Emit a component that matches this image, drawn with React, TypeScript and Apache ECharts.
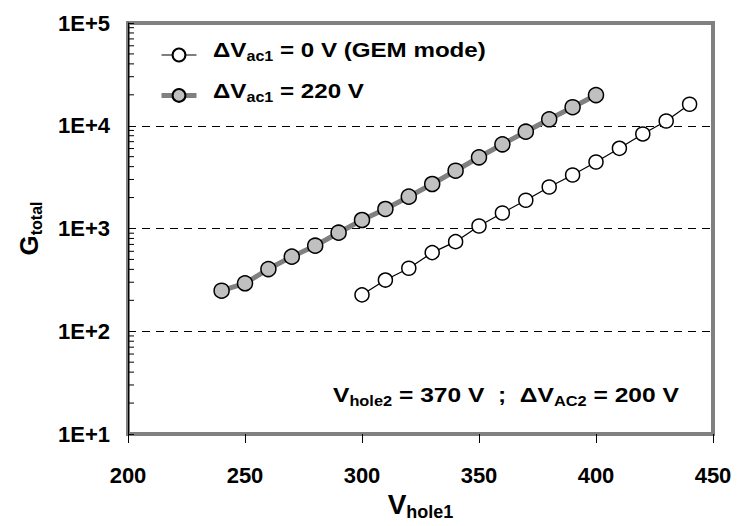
import React, { useEffect, useRef } from "react";
import * as echarts from "echarts";

const vhole1Gem = [300, 310, 320, 330, 340, 350, 360, 370, 380, 390, 400, 410, 420, 430, 440];
const gainGem = [226, 315, 410, 582, 745, 1057, 1416, 1882, 2536, 3317, 4436, 6030, 8320, 11120, 16200];
const vhole1Ac = [240, 250, 260, 270, 280, 290, 300, 310, 320, 330, 340, 350, 360, 370, 380, 390, 400];
const gainAc = [248, 293, 403, 532, 680, 910, 1210, 1549, 2040, 2710, 3651, 4932, 6599, 8750, 11560, 15150, 19900];
const decades = [10, 100, 1000, 10000];
const minorSteps = [2, 3, 4, 5, 6, 7, 8, 9];
const legendLabels = [
  "{m|\u0394V}{s|ac1}{m| = 0 V (GEM mode)}",
  "{m|\u0394V}{s|ac1}{m| = 220 V}",
];
const noteLabel = "{m|V}{s|hole2}{m| = 370 V  ;  \u0394V}{s|AC2}{m| = 200 V}";

const FONT = 'Arial, "Liberation Sans", sans-serif';

const richText = {
  m: { fontSize: 21, fontWeight: "bold", fontFamily: FONT, fill: "#000", lineHeight: 26 },
  s: { fontSize: 14, fontWeight: "bold", fontFamily: FONT, fill: "#000", lineHeight: 15, verticalAlign: "bottom" },
};

export default function App() {
  const ref = useRef<HTMLDivElement>(null);
  useEffect(() => {
    document.body.style.margin = "0";
    const chart = echarts.init(ref.current!, null, { renderer: "svg" });
    const minorData: number[][] = [];
    decades.forEach((d) => minorSteps.forEach((m) => minorData.push([200, d * m])));
    chart.setOption({
      animation: false,
      backgroundColor: "#fff",
      grid: {
        left: 128,
        right: 25,
        top: 23,
        bottom: 92,
        show: true,
        borderColor: "#808080",
        borderWidth: 4,
        backgroundColor: "#fff",
      },
      legend: {
        left: 154,
        top: 42,
        orient: "vertical",
        itemWidth: 35,
        itemHeight: 16,
        itemGap: 25,
        data: [
          { name: "gem", lineStyle: { color: "#000", width: 1.2 } },
          { name: "ac", lineStyle: { color: "#808080", width: 5 } },
        ],
        formatter: () => "",
        selectedMode: false,
      },
      xAxis: {
        type: "value",
        min: 200,
        max: 450,
        interval: 50,
        axisLine: { show: false },
        axisTick: { show: true, inside: false, length: 9, lineStyle: { color: "#000", width: 1 } },
        axisLabel: { margin: 30, fontSize: 22, fontWeight: "bold", fontFamily: FONT, color: "#000" },
        splitLine: { show: false },
        name: "{m|V}{s|hole1}",
        nameLocation: "middle",
        nameGap: 52,
        nameTextStyle: {
          rich: {
            m: { fontSize: 28, fontWeight: "bold", fontFamily: FONT, color: "#000", lineHeight: 32 },
            s: { fontSize: 18, fontWeight: "bold", fontFamily: FONT, color: "#000", lineHeight: 18, verticalAlign: "bottom" },
          },
        },
      },
      yAxis: {
        type: "log",
        logBase: 10,
        min: 10,
        max: 100000,
        axisLine: { show: true, lineStyle: { color: "#000", width: 1 } },
        axisTick: { show: true, inside: true, length: 6, lineStyle: { color: "#000" } },
        axisLabel: {
          margin: 18,
          fontSize: 22,
          fontWeight: "bold",
          fontFamily: FONT,
          color: "#000",
          formatter: (v: number) => "1E+" + Math.round(Math.log10(v)),
        },
        splitLine: {
          show: true,
          showMinLine: false,
          showMaxLine: false,
          lineStyle: { color: "#000", type: [8, 6], width: 1 },
        },
        name: "{m|G}{s|total}",
        nameLocation: "middle",
        nameRotate: 90,
        nameGap: 84,
        nameTextStyle: {
          rich: {
            m: { fontSize: 26, fontWeight: "bold", fontFamily: FONT, color: "#000", lineHeight: 30 },
            s: { fontSize: 16, fontWeight: "bold", fontFamily: FONT, color: "#000", lineHeight: 16, verticalAlign: "bottom" },
          },
        },
      },
      graphic: [
        {
          type: "text",
          x: 213,
          y: 50,
          scaleX: 1.15,
          style: { text: legendLabels[0], rich: richText, verticalAlign: "middle" },
        },
        {
          type: "text",
          x: 213,
          y: 91,
          scaleX: 1.15,
          style: { text: legendLabels[1], rich: richText, verticalAlign: "middle" },
        },
        {
          type: "text",
          x: 333,
          y: 395,
          scaleX: 1.17,
          style: { text: noteLabel, rich: richText, verticalAlign: "middle" },
        },
      ],
      series: [
        {
          name: "gem",
          type: "line",
          data: vhole1Gem.map((x, i) => [x, gainGem[i]]),
          symbol: "circle",
          symbolSize: 14,
          lineStyle: { color: "#000", width: 1.2 },
          itemStyle: { color: "#fff", borderColor: "#000", borderWidth: 1.5 },
          z: 3,
        },
        {
          name: "ac",
          type: "line",
          data: vhole1Ac.map((x, i) => [x, gainAc[i]]),
          symbol: "circle",
          symbolSize: 15,
          lineStyle: { color: "#808080", width: 5 },
          itemStyle: { color: "#c0c0c0", borderColor: "#000", borderWidth: 1.5 },
          z: 4,
        },
        {
          name: "minor",
          type: "custom",
          silent: true,
          data: minorData,
          encode: { x: 0, y: 1 },
          renderItem: (params: any, api: any) => {
            const p = api.coord([api.value(0), api.value(1)]);
            return {
              type: "line",
              shape: { x1: p[0], y1: p[1], x2: p[0] + 6, y2: p[1] },
              style: { stroke: "#000", lineWidth: 1 },
            };
          },
          z: 5,
        },
      ],
    });
    return () => chart.dispose();
  }, []);
  return <div ref={ref} style={{ width: 738, height: 526 }} />;
}
